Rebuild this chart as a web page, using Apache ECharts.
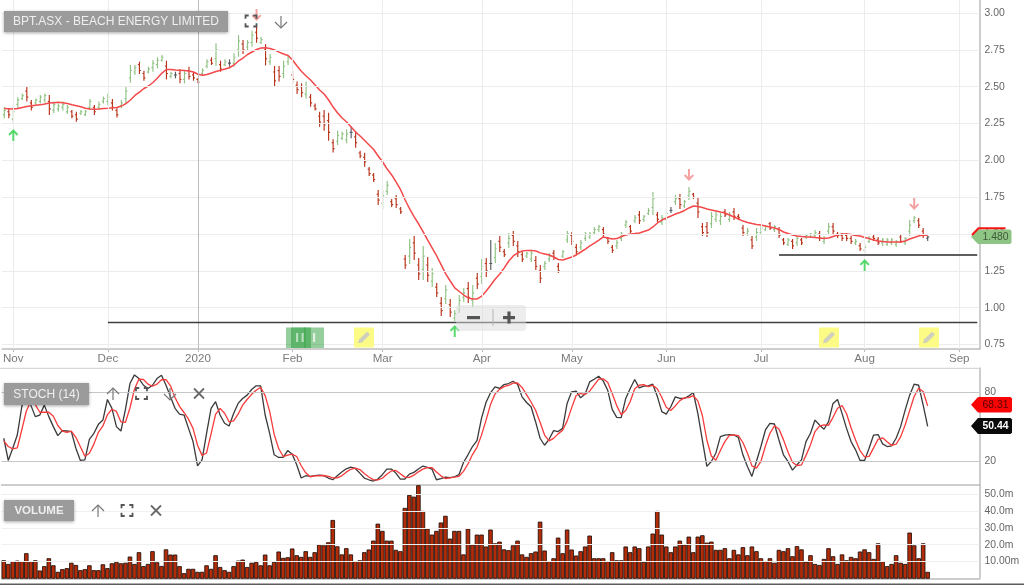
<!DOCTYPE html>
<html><head><meta charset="utf-8">
<style>html,body{margin:0;padding:0;background:#fff}#c{width:1024px;height:585px}</style>
<script src="https://cdn.jsdelivr.net/npm/echarts@6/dist/echarts.min.js"></script>
</head><body><div id="c"></div>
<script>
const monthLabels = {2:'Nov',23:'Dec',43:'2020',64:'Feb',84:'Mar',106:'Apr',126:'May',147:'Jun',168:'Jul',191:'Aug',212:'Sep'};
const categoryCount = 217;
const priceTicks = [0.75,1.00,1.25,1.50,1.75,2.00,2.25,2.50,2.75,3.00];
const stochTicks = [20,80];
const volumeTicks = [10,20,30,40,50];
const volumeTickText = {10:'10.00m',20:'20.0m',30:'30.0m',40:'40.0m',50:'50.0m'};
const supportLines = [[23,0.90],[172,1.36]];
const upArrows = [[2,2.172],[100,0.842],[191,1.290]];
const downArrows = [[56,2.987],[152,1.901],[202,1.704]];

// g = up, r = down, d = unchanged
const barColors = ['grgggrrgggrgggg','rrgggrgggrrgggg','rrggggrgdrgrrrg','grgrgdggrggrgrg','rrggrrrgrrrrrrg','ggdrrrrrrggrrrr','grrgrgrrgrgggrg','rgrdgrrgrrrggrr','ggrrggrrgggggrr','rgggrgrgggrggdg','rggrrrrgggrgrrr','grgggrgrrgrgrgg','grggrrrrrgrggrr','ggggrgggrrd'].join('');
const highs = [2.365,2.354,2.365,2.428,2.455,2.501,2.410,2.421,2.444,2.455,2.444,2.399,2.387,2.399,2.376,2.342,2.331,2.342,2.342,2.417,2.376,2.399,2.433,2.455,2.417,2.354,2.410,2.501,2.648,2.648,2.670,2.609,2.636,2.682,2.700,2.716,2.677,2.602,2.602,2.618,2.614,2.636,2.602,2.557,2.625,2.686,2.700,2.795,2.677,2.686,2.686,2.727,2.851,2.817,2.817,2.881,2.908,2.840,2.790,2.722,2.641,2.641,2.677,2.716,2.609,2.535,2.523,2.535,2.451,2.387,2.331,2.342,2.324,2.143,2.202,2.195,2.211,2.229,2.195,2.066,2.052,1.955,1.914,1.799,1.799,1.860,1.738,1.765,1.683,1.358,1.466,1.487,1.337,1.419,1.344,1.269,1.167,1.072,1.154,1.059,0.984,1.086,1.133,1.174,1.154,1.235,1.330,1.337,1.459,1.439,1.487,1.398,1.507,1.521,1.453,1.378,1.378,1.392,1.351,1.290,1.317,1.371,1.392,1.303,1.392,1.521,1.514,1.432,1.459,1.514,1.514,1.548,1.561,1.548,1.480,1.425,1.459,1.514,1.595,1.561,1.629,1.656,1.629,1.677,1.785,1.650,1.629,1.677,1.683,1.765,1.772,1.731,1.819,1.779,1.751,1.575,1.582,1.650,1.650,1.643,1.670,1.650,1.677,1.636,1.561,1.541,1.487,1.541,1.554,1.561,1.582,1.561,1.548,1.473,1.473,1.466,1.487,1.473,1.500,1.507,1.527,1.521,1.487,1.575,1.575,1.514,1.507,1.507,1.487,1.466,1.439,1.432,1.487,1.493,1.480,1.473,1.473,1.473,1.459,1.493,1.480,1.595,1.622,1.609,1.541,1.487];
const lows = [2.286,2.286,2.247,2.354,2.410,2.399,2.338,2.376,2.387,2.392,2.308,2.320,2.331,2.338,2.315,2.286,2.263,2.308,2.301,2.342,2.308,2.342,2.387,2.376,2.338,2.292,2.354,2.387,2.528,2.580,2.587,2.541,2.591,2.602,2.625,2.670,2.550,2.557,2.557,2.523,2.523,2.550,2.541,2.523,2.573,2.625,2.648,2.641,2.602,2.641,2.636,2.636,2.704,2.722,2.750,2.772,2.799,2.790,2.645,2.648,2.501,2.535,2.557,2.648,2.523,2.451,2.428,2.419,2.365,2.338,2.229,2.202,2.134,2.053,2.105,2.138,2.116,2.150,2.086,2.014,1.957,1.894,1.853,1.697,1.670,1.765,1.683,1.677,1.636,1.263,1.296,1.324,1.188,1.188,1.174,1.140,1.072,0.943,1.025,0.937,0.909,0.964,1.038,1.032,0.998,1.127,1.161,1.208,1.256,1.303,1.378,1.344,1.405,1.419,1.344,1.310,1.337,1.310,1.256,1.167,1.256,1.310,1.324,1.235,1.337,1.439,1.425,1.358,1.392,1.453,1.466,1.493,1.514,1.480,1.432,1.371,1.398,1.453,1.541,1.507,1.575,1.568,1.582,1.629,1.629,1.582,1.561,1.561,1.643,1.697,1.670,1.677,1.731,1.738,1.609,1.487,1.480,1.541,1.582,1.561,1.616,1.582,1.595,1.595,1.487,1.487,1.398,1.453,1.493,1.521,1.527,1.514,1.473,1.425,1.419,1.398,1.419,1.425,1.466,1.473,1.473,1.453,1.432,1.500,1.500,1.473,1.453,1.453,1.432,1.425,1.385,1.371,1.439,1.453,1.425,1.419,1.419,1.425,1.412,1.439,1.425,1.487,1.575,1.541,1.473,1.453];
const opens = [2.31,2.33,2.28,2.38,2.42,2.47,2.39,2.39,2.40,2.41,2.40,2.34,2.35,2.36,2.33,2.33,2.31,2.32,2.31,2.36,2.36,2.36,2.40,2.40,2.39,2.34,2.37,2.42,2.56,2.60,2.65,2.59,2.60,2.63,2.65,2.68,2.64,2.57,2.58,2.59,2.55,2.61,2.58,2.55,2.59,2.64,2.68,2.69,2.65,2.65,2.66,2.66,2.75,2.79,2.77,2.80,2.87,2.80,2.75,2.67,2.60,2.61,2.59,2.67,2.58,2.51,2.50,2.45,2.43,2.37,2.30,2.30,2.27,2.12,2.13,2.15,2.14,2.19,2.16,2.05,2.02,1.94,1.90,1.77,1.71,1.79,1.72,1.74,1.67,1.33,1.35,1.44,1.29,1.26,1.29,1.18,1.14,1.03,1.06,1.02,0.93,1.00,1.07,1.13,1.05,1.20,1.21,1.30,1.30,1.34,1.45,1.38,1.44,1.49,1.42,1.36,1.35,1.33,1.32,1.25,1.28,1.33,1.37,1.28,1.35,1.46,1.49,1.41,1.41,1.47,1.48,1.51,1.53,1.53,1.47,1.41,1.42,1.47,1.56,1.55,1.59,1.63,1.60,1.64,1.68,1.63,1.58,1.60,1.66,1.72,1.74,1.69,1.76,1.77,1.71,1.55,1.55,1.57,1.60,1.59,1.65,1.60,1.65,1.62,1.54,1.50,1.46,1.48,1.51,1.53,1.57,1.53,1.53,1.46,1.43,1.45,1.44,1.46,1.48,1.48,1.49,1.50,1.45,1.52,1.55,1.50,1.49,1.49,1.47,1.44,1.42,1.39,1.45,1.48,1.46,1.44,1.43,1.44,1.43,1.48,1.44,1.52,1.59,1.59,1.52,1.47];
const closes = [2.34,2.31,2.33,2.41,2.44,2.43,2.36,2.41,2.43,2.44,2.35,2.38,2.37,2.38,2.36,2.30,2.28,2.33,2.33,2.40,2.33,2.38,2.42,2.43,2.36,2.31,2.39,2.47,2.61,2.63,2.61,2.56,2.62,2.66,2.68,2.70,2.59,2.59,2.58,2.55,2.59,2.57,2.56,2.53,2.61,2.67,2.66,2.75,2.62,2.67,2.66,2.70,2.81,2.75,2.80,2.85,2.83,2.82,2.69,2.70,2.54,2.57,2.64,2.70,2.55,2.48,2.46,2.50,2.39,2.35,2.26,2.24,2.19,2.08,2.17,2.18,2.18,2.19,2.12,2.03,1.99,1.91,1.87,1.73,1.76,1.83,1.70,1.70,1.65,1.29,1.41,1.37,1.23,1.35,1.22,1.23,1.10,0.98,1.12,0.97,0.96,1.05,1.10,1.07,1.10,1.16,1.28,1.25,1.30,1.40,1.41,1.36,1.47,1.45,1.38,1.33,1.37,1.37,1.28,1.20,1.30,1.35,1.34,1.25,1.38,1.50,1.45,1.38,1.44,1.50,1.50,1.53,1.55,1.50,1.45,1.39,1.44,1.50,1.58,1.52,1.61,1.59,1.62,1.66,1.74,1.60,1.61,1.64,1.66,1.74,1.70,1.72,1.79,1.75,1.65,1.51,1.51,1.62,1.63,1.62,1.63,1.63,1.62,1.61,1.51,1.52,1.42,1.51,1.54,1.55,1.54,1.55,1.49,1.44,1.46,1.42,1.47,1.44,1.49,1.50,1.51,1.47,1.47,1.55,1.52,1.49,1.47,1.47,1.45,1.45,1.40,1.41,1.47,1.47,1.44,1.46,1.46,1.46,1.45,1.45,1.47,1.56,1.61,1.56,1.49,1.48];
const movingAverage = [2.352,2.351,2.349,2.352,2.359,2.366,2.371,2.375,2.377,2.383,2.390,2.392,2.394,2.391,2.386,2.378,2.371,2.364,2.354,2.349,2.347,2.349,2.352,2.354,2.357,2.359,2.369,2.386,2.410,2.441,2.464,2.488,2.505,2.529,2.559,2.593,2.617,2.617,2.614,2.612,2.610,2.607,2.600,2.585,2.578,2.583,2.593,2.604,2.612,2.620,2.629,2.648,2.675,2.695,2.719,2.736,2.753,2.763,2.764,2.760,2.750,2.735,2.722,2.712,2.682,2.641,2.604,2.573,2.546,2.512,2.478,2.451,2.410,2.362,2.322,2.288,2.261,2.227,2.193,2.166,2.135,2.104,2.074,2.030,1.989,1.941,1.901,1.853,1.799,1.731,1.670,1.616,1.568,1.514,1.459,1.405,1.351,1.290,1.229,1.181,1.134,1.110,1.086,1.066,1.059,1.059,1.079,1.113,1.154,1.195,1.229,1.270,1.317,1.351,1.372,1.385,1.389,1.389,1.385,1.372,1.365,1.358,1.344,1.327,1.324,1.334,1.344,1.358,1.378,1.398,1.419,1.439,1.459,1.480,1.473,1.466,1.469,1.483,1.493,1.500,1.503,1.507,1.517,1.527,1.548,1.575,1.595,1.609,1.622,1.636,1.646,1.660,1.677,1.690,1.687,1.680,1.670,1.663,1.656,1.649,1.643,1.629,1.616,1.602,1.588,1.578,1.571,1.565,1.561,1.554,1.548,1.541,1.531,1.514,1.504,1.493,1.487,1.483,1.480,1.480,1.476,1.473,1.469,1.473,1.483,1.493,1.500,1.500,1.497,1.490,1.487,1.476,1.469,1.459,1.453,1.449,1.446,1.446,1.446,1.446,1.453,1.466,1.476,1.487,1.493,1.490];
const stochK = [40.2,20.9,31.5,43,67.6,80.6,69,59,60.4,69,59,50.3,42.5,46.8,46.5,46,31.5,20.9,21.4,39.3,44.5,52.3,56,73.9,66.2,50.3,46.5,65.3,87.8,95.3,92.1,86.3,83.5,86.3,92.1,95,86.3,76.2,66.2,61.2,60.4,48.8,37.3,16.2,21.4,44.5,66.2,72,60.4,53.2,50.9,61.8,70.5,74.8,77.7,82.6,85.8,85.8,60.4,44.5,25.8,23.5,23.5,29.5,26.3,17.1,5.6,7.6,7,7.6,8.2,7.6,5.6,4.1,7.6,10.8,13.6,15.1,13.9,9.9,5.6,4.1,3,4.7,8.5,13.4,13.4,9.9,4.7,4.7,9,10.5,13.4,16,14.8,13.4,4.1,5,6.4,5.9,6.7,8.5,19.1,25.8,33,38.2,57.5,71.3,79.7,84.9,83.5,86.9,87.8,89.8,87.2,76.2,71.3,67.6,54.6,40.2,34.1,39.3,46.8,46,48.8,70.5,80.6,81.2,75.4,78.6,89.2,91.5,94.1,90.1,82,65.3,58.4,58.1,74.8,83.5,91.3,84,85.5,85.8,87.2,76.8,63.3,61.2,67.6,76.2,74.8,74.8,77,80,61.8,38.7,15.7,20,27.2,41.6,43,43.4,43,40.8,25.8,15.7,7,20,33,47.4,53.2,52.6,38.7,25.8,20,12.5,17.1,21.4,37.3,44.5,56,51.7,48,54.6,70.5,73.9,61.8,48.8,37.3,30.1,20.9,20.9,31.5,43,43.4,35.3,33,33.6,40.2,50.3,64.7,77.7,87.2,86.3,69,50.44];
const stochD = [38,33,31,31.8,47.4,63.7,72.4,69.5,62.8,62.8,62.8,59.4,51.3,46.5,45.3,46.4,41,32.8,24.6,27.2,35.1,45.4,50.9,60.7,65.4,63.5,54.4,54,66.5,82.8,91.7,91.3,87.3,85.4,87.3,91.1,91.1,85.8,75.6,67.9,62.6,56.8,48.8,34.1,25.3,27.4,44,60.9,66.2,61.9,54.5,55.3,61.1,69,73.9,78.4,82,84.5,77.3,63.6,43.6,31.3,24.3,25.5,26.4,24.3,16.3,10.1,6.7,7.4,7.6,7.8,7.1,5.8,5.8,7.5,10.7,13.2,14.2,13,9.5,6.5,4.2,3.9,5.4,8.9,11.8,12.2,9.3,6.4,6.1,8.1,11,13.3,14.7,14.7,10.8,7.5,5.2,5.8,6.3,7.1,11.4,17.8,26,32.3,42.9,55.7,69.5,78.6,82.7,85.1,86.1,88.2,88.3,84.4,78.2,71.7,64.5,54.1,43,37.9,40.1,44,47.2,55.1,66.6,77.4,79.1,78.4,81.1,86.4,91.6,91.9,88.9,79.2,68.6,60.6,64.4,72.1,83.2,86.3,86.9,85.1,86.2,83.3,75.8,67.1,64.4,68.3,72.9,75.3,75.5,77.3,72.7,60.2,38.7,24.8,21,29.6,37.3,42.7,43.1,42.4,36.5,27.4,16.2,14.2,20,33.5,44.5,51.1,48.2,39,28.2,19.4,16.5,17,25.3,34.4,46,50.7,51.9,51.4,58.4,66.3,68.7,61.5,49.3,38.7,29.4,24,24.4,31.8,39.3,40.6,37.2,34,35,41.4,51.7,64.2,76.5,83.7,80.9,68.31];
const volume = [10.5,8.3,10,10.3,10,14.7,10,10.5,4.4,7,11.7,7.5,3.6,5.2,5.8,9,7.7,4.6,5.2,7.5,4.6,4.6,8.1,5.8,8.7,9.5,8.7,9,12.7,8.3,15.3,7,8.3,15.9,9.3,7.1,17,13.9,13.9,7,2.8,5.4,5.4,3.6,3.6,7.5,5.4,13.5,6.5,4.6,3.6,7,10.3,10.9,6.5,9,9.5,7.5,13.9,7.5,9.5,15.7,11.9,12.3,17.5,13.5,12.5,15.9,12.5,15.3,20,19.4,21.2,34.5,18.8,14,17.7,14,10,10.5,15.3,16.9,22.2,32.3,28,22.2,22.2,16.7,15.9,41.7,49.4,48.4,55.2,39.9,29.4,25.8,28,33,37,23.4,28,28,14,29.4,19.8,25.8,25.8,18.7,28.8,20.6,21.6,17,16.5,19.4,22.2,14,12.5,14.7,15.7,33.5,16.3,10,11.7,24,14.7,28.8,16.9,13.3,15.9,18.7,25.2,11.7,11.7,11.7,10,15.3,10.5,10.5,18.7,15.3,18.7,17.7,9.5,18.7,26.4,39.9,25.8,18.7,15.3,18.7,22.2,19.8,24.6,15.3,24.6,25.4,21,21.6,16.7,16.7,17.7,11.7,16.7,14,18.3,13.5,18.7,15.9,11.7,10,11.7,9,16.7,15.9,17.7,12.9,18.9,17,9.7,13.5,8.3,7.7,11.3,17.7,12.9,8.3,14,10.5,12.5,11.7,15.7,17,15.3,11.3,20.6,9.9,7,8.3,13.5,9,8.3,27,19.4,11.7,20.6,3.6];

const categories = Array.from({length:categoryCount},(_,i)=>monthLabels[i]||'');
const monthIdx = Object.keys(monthLabels).map(Number);
const ohlcData = highs.map((h,i)=>[i,opens[i],closes[i],lows[i],h,barColors[i]]);
const kData = stochK.map((v,i)=>[i,v]);
const dData = stochD.map((v,i)=>[i,v]);
const maData = movingAverage.map((v,i)=>[i,v]);
const volData = volume.map((v,i)=>[i,v]);
const COL = {g:'#8fc283',r:'#b8331a',d:'#565c62'};

const LEFT=1.5, W=978;
const upPath='path://M5 0L10 5.2L8.6 6.6L6 4L6 12L4 12L4 4L1.4 6.6L0 5.2Z';
const downPath='path://M5 12L10 6.8L8.6 5.4L6 8L6 0L4 0L4 8L1.4 5.4L0 6.8Z';
const noMark={symbol:'none',silent:true,animation:false,label:{show:false}};

// decorative UI furniture
const G=[];
function rect(x,y,w,h,fill,extra){G.push(Object.assign({type:'rect',shape:{x,y,width:w,height:h},style:{fill},silent:true,z:50},extra||{}));}
function label(x,y,w,h,txt,size,weight){
  G.push({type:'rect',shape:{x,y,width:w,height:h},silent:true,z:50,style:{fill:'#9b9b9b',shadowBlur:3,shadowColor:'rgba(0,0,0,.35)',shadowOffsetY:1}});
  G.push({type:'text',x:x+w/2,y:y+h/2+0.5,silent:true,z:51,style:{text:txt,fill:'#efefef',font:(weight||'normal')+' '+size+'px "Liberation Sans",Arial',textAlign:'center',textVerticalAlign:'middle'}});
}
function stroke(pts,color,w){G.push({type:'polyline',shape:{points:pts},silent:true,z:52,style:{stroke:color,lineWidth:w,fill:null}});}
function fullIcon(x,y){const c='#555',s=5.5,l=3.2,w=1.8;
  [[-1,-1],[1,-1],[-1,1],[1,1]].forEach(([a,b])=>stroke([[x+a*s,y+b*(s-l)],[x+a*s,y+b*s],[x+a*(s-l),y+b*s]],c,w));}
function arrowIcon(x,y,up){const c='#777',d=up?-1:1;
  stroke([[x,y-d*6],[x,y+d*6]],c,1.2);stroke([[x-6,y+d*0],[x,y+d*6],[x+6,y+d*0]],c,1.2);}
function crossIcon(x,y){const c='#6a6a6a',s=5;stroke([[x-s,y-s],[x+s,y+s]],c,1.8);stroke([[x-s,y+s],[x+s,y-s]],c,1.8);}
function tag(x,y,w,h,fill,txt,color,weight){
  G.push({type:'polygon',shape:{points:[[x,y+h/2],[x+7,y],[x+w-1.5,y],[x+w,y+1.5],[x+w,y+h-1.5],[x+w-1.5,y+h],[x+7,y+h]]},silent:true,z:50,style:{fill}});
  G.push({type:'text',x:1008.5,y:y+h/2+0.5,silent:true,z:51,style:{text:txt,fill:color,font:(weight||'normal')+' 10.4px "Liberation Sans",Arial',textAlign:'right',textVerticalAlign:'middle'}});
}
function pencil(x,y){
  rect(x,y,20,20,'#fbfb85');
  G.push({type:'polygon',shape:{points:[[x+4,y+15.8],[x+5,y+12],[x+13,y+4.2],[x+16,y+7],[x+8,y+15]]},silent:true,z:51,style:{fill:'#cfcfbf'}});
}
label(4,11,224,21,'BPT.ASX - BEACH ENERGY LIMITED',12);
label(4,383,85,22,'STOCH (14)',12);
label(4,500,70,21,'VOLUME',11.5,'bold');
fullIcon(251,21);arrowIcon(281,22,false);
arrowIcon(113,394,true);fullIcon(141.5,393.5);arrowIcon(170,394,false);crossIcon(199,393.5);
arrowIcon(98,511,true);fullIcon(127,510.5);crossIcon(156,510.5);
stroke([[972,235],[978.5,228.3],[1005.5,228.3]],'#f41414',2);
tag(971,229.5,40.5,14.5,'#8fc584','1.480','#3e5a3a');
tag(971,397,41,15.5,'#fa0505','68.31','#5a0000');
tag(971,418,41,16,'#0a0a0a','50.44','#ffffff','bold');
pencil(354,327.5);pencil(819,327.5);pencil(919,327.5);
[[286,.55],[291,.6],[304,.55]].forEach(([x,o])=>{rect(x,327.5,20,20.5,'rgba(60,165,75,'+o+')');});
[[296,.55],[301.5,.55],[313,.7]].forEach(([x,o])=>rect(x,333,2.2,9,'rgba(255,255,255,'+o+')'));
rect(456,305,70,26,'rgba(220,220,220,.5)',{shape:{x:456,y:305,width:70,height:26,r:3}});
rect(492.5,309,1,17,'#b5b5b5');
rect(467,316,13,3.2,'#555');rect(503,316,12,3.2,'#555');rect(507.4,311.5,3.2,12,'#555');
G.push({type:'line',shape:{x1:0,y1:368.3,x2:980,y2:368.3},silent:true,z:1,style:{stroke:'#cfcfcf',lineWidth:1}});
G.push({type:'line',shape:{x1:0,y1:584.3,x2:1024,y2:584.3},silent:true,z:1,style:{stroke:'#5d5d5d',lineWidth:1.5}});

const hiddenX=i=>({type:'category',gridIndex:i,data:categories,boundaryGap:true,axisTick:{show:false},axisLabel:{show:false},splitLine:{show:false},axisLine:{show:true,lineStyle:{color:'#bdbdbd',width:1.5}}});
const rightAxis={color:'#666',fontSize:10.4,fontFamily:'"Liberation Sans",Arial',margin:5};

const option={
  animation:false,backgroundColor:'#fff',
  grid:[
    {left:LEFT,top:0,width:W,height:349},
    {left:LEFT,top:368,width:W,height:117.5},
    {left:LEFT,top:485.5,width:W,height:92.8}
  ],
  xAxis:[
    {type:'category',gridIndex:0,data:categories,
      axisLine:{show:true,lineStyle:{color:'#bdbdbd',width:1.5}},
      axisTick:{show:true,alignWithLabel:true,length:3,interval:(i)=>monthIdx.includes(i),lineStyle:{color:'#bdbdbd'}},
      axisLabel:{show:true,interval:(i)=>monthIdx.includes(i),color:'#7a7a7a',fontSize:11.6,fontFamily:'"Liberation Sans",Arial',margin:4,hideOverlap:false},
      splitLine:{show:false}},
    hiddenX(1),hiddenX(2)
  ],
  yAxis:[
    {type:'value',gridIndex:0,position:'right',min:0.7194,max:3.089,scale:true,axisLabel:Object.assign({customValues:priceTicks,formatter:v=>v.toFixed(2)},rightAxis),axisLine:{show:true,onZero:false,lineStyle:{color:'#bdbdbd',width:1.5}},axisTick:{show:false},splitLine:{show:false}},
    {type:'value',gridIndex:1,position:'right',min:-0.9,max:101.3,axisLabel:Object.assign({customValues:stochTicks},rightAxis),axisLine:{show:true,onZero:false,lineStyle:{color:'#bdbdbd',width:1.5}},axisTick:{show:false},splitLine:{show:false}},
    {type:'value',gridIndex:2,position:'right',min:0,max:55.3,axisLabel:Object.assign({customValues:volumeTicks,formatter:v=>volumeTickText[v]},rightAxis),axisLine:{show:true,onZero:false,lineStyle:{color:'#bdbdbd',width:1.5}},axisTick:{show:false},splitLine:{show:false}}
  ],
  graphic:G,
  series:[
    {name:'guides',type:'line',xAxisIndex:0,yAxisIndex:0,data:[],z:1,
      markLine:Object.assign({},noMark,{lineStyle:{type:'solid',color:'#ececec',width:1},
        data:priceTicks.map(v=>({yAxis:v})).concat(monthIdx.map(i=>({xAxis:i,lineStyle:{color:i===43?'#bdbdbd':'#ececec',width:1}})))})},
    {name:'OHLC',type:'custom',xAxisIndex:0,yAxisIndex:0,z:3,clip:false,encode:{x:0,y:[1,2,3,4]},data:ohlcData,
      renderItem:(params,api)=>{
        const x=api.value(0),o=api.coord([x,api.value(1)]),c=api.coord([x,api.value(2)]),l=api.coord([x,api.value(3)]),h=api.coord([x,api.value(4)]);
        const col=COL[ohlcData[params.dataIndex][5]];
        const st={stroke:col,lineWidth:1.15,fill:null};
        const t=1.5;
        return {type:'group',silent:true,children:[
          {type:'line',shape:{x1:h[0],y1:h[1],x2:l[0],y2:l[1]},style:st},
          {type:'line',shape:{x1:o[0]-t,y1:o[1],x2:o[0],y2:o[1]},style:st},
          {type:'line',shape:{x1:c[0],y1:c[1],x2:c[0]+t,y2:c[1]},style:st}
        ]};
      }},
    {name:'MA',type:'line',xAxisIndex:0,yAxisIndex:0,z:4,data:maData,symbol:'none',lineStyle:{color:'#f4484a',width:1.5},
      markLine:Object.assign({},noMark,{lineStyle:{type:'solid',color:'#3f3f3f',width:1.4},
        data:supportLines.map(([i,v],n)=>[{coord:[i,v],lineStyle:{color:n?'#5f5f5f':'#3f3f3f',width:n?2:1.4}},{coord:[categoryCount-1,v]}])})},
    {name:'up',type:'scatter',xAxisIndex:0,yAxisIndex:0,z:5,data:upArrows,symbol:upPath,symbolSize:[10,12],itemStyle:{color:'#2fd04a'},silent:true},
    {name:'down',type:'scatter',xAxisIndex:0,yAxisIndex:0,z:5,data:downArrows,symbol:downPath,symbolSize:[10,12],itemStyle:{color:'#f28a8a'},silent:true},
    {name:'K',type:'line',xAxisIndex:1,yAxisIndex:1,z:3,data:kData,symbol:'none',lineStyle:{color:'#3a3a3a',width:1.3},
      markLine:Object.assign({},noMark,{lineStyle:{type:'solid',color:'#c6c6c6',width:1.2},data:stochTicks.map(v=>({yAxis:v}))})},
    {name:'D',type:'line',xAxisIndex:1,yAxisIndex:1,z:4,data:dData,symbol:'none',lineStyle:{color:'#f73a3a',width:1.3}},
    {name:'VolumeGuides',type:'line',xAxisIndex:2,yAxisIndex:2,data:[],z:1,
      markLine:Object.assign({},noMark,{lineStyle:{type:'solid',color:'#f0f0f0',width:1.2},data:volumeTicks.map(v=>({yAxis:v}))})},
    {name:'Volume',type:'custom',xAxisIndex:2,yAxisIndex:2,z:3,clip:false,encode:{x:0,y:1},data:volData,
      renderItem:(params,api)=>{
        const x=api.value(0),top=api.coord([x,api.value(1)]),base=api.coord([x,0]),w=api.size([1,0])[0],lw=0.85;
        return {type:'rect',silent:true,shape:{x:top[0]-w/2+lw/2,y:top[1],width:w-lw,height:base[1]-top[1]},style:{fill:'#b32c0a',stroke:'#1e0d07',lineWidth:lw}};
      }}
  ]
};
echarts.init(document.getElementById('c'),null,{renderer:'canvas'}).setOption(option);
</script></body></html>
